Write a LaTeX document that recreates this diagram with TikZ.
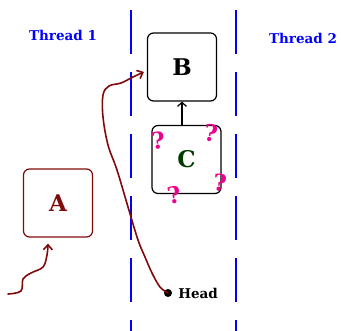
\documentclass[tikz,border=0pt]{standalone}
\usepackage{fontspec}
\setmainfont{DejaVu Serif}
\usetikzlibrary{positioning,arrows.meta}
\definecolor{darkred}{RGB}{128,10,10}
\definecolor{darkgreen}{RGB}{0,60,0}
\tikzset{
    taskbox/.style={draw, line width=1.2pt, rounded corners=6pt, minimum width=69pt, minimum height=68pt, font=\bfseries\fontsize{23}{23}\selectfont},
    threadlbl/.style={text=blue, font=\bfseries\fontsize{13.5}{13.5}\selectfont},
    qmark/.style={text=magenta, font=\bfseries\fontsize{23}{23}\selectfont, inner sep=0pt},
    redline/.style={draw=darkred, line width=1.6pt, line cap=round, -{Straight Barb[length=5pt, width=9pt]}}
}
\begin{document}
\begin{tikzpicture}[x=1pt, y=-1pt]
    \useasboundingbox (0,0) rectangle (342,331);
    % thread borders
    \foreach \lx in {131, 236} {
        \draw[blue, line width=1.4pt, dash pattern=on 44pt off 18pt, dash phase=-5pt] (\lx,5) -- (\lx,331);
    }
    \node[threadlbl] (t1) at (63,35) {Thread 1};
    \node[threadlbl] (t2) at (303,38) {Thread 2};
    % boxes
    \node[taskbox] (B) at (182,67) {B};
    \node[taskbox, text=darkgreen] (C) at (186.5,159.5) {C};
    \node[taskbox, draw=darkred, text=darkred] (A) at (58,203) {A};
    \draw[line width=1.2pt, -{Straight Barb[length=4pt, width=9pt]}] (B.south |- C.north) -- (B.south);
    \foreach \qx/\qy/\qr [count=\qi] in {158/141/5, 211/133/-8, 174/195/10, 220/183/-5} {
        \node[qmark, rotate=\qr] (q\qi) at (\qx,\qy) {?};
    }
    % head pointer
    \node[circle, fill, inner sep=0pt, minimum size=8pt] (hd) at (168,293) {};
    \node[right=6pt of hd, font=\bfseries\fontsize{13.5}{13.5}\selectfont, inner sep=0pt] (hdlbl) {Head};
    \draw[redline] plot[smooth, tension=0.6] coordinates {(hd.center) (160,287) (152,273) (145,257) (138,240) (128,207) (117,170) (108,145) (103,117) (103,95) (109,86) (121,83) (133,77) ([shift={(-3,5)}]B.west)};
    \coordinate (tl) at (8,294);
    \draw[redline] plot[smooth, tension=0.6] coordinates {(tl) (21,291) (23,279) (31,273) (43,267) (47,255) ([shift={(-10,6)}]A.south)};
\end{tikzpicture}
\end{document}
